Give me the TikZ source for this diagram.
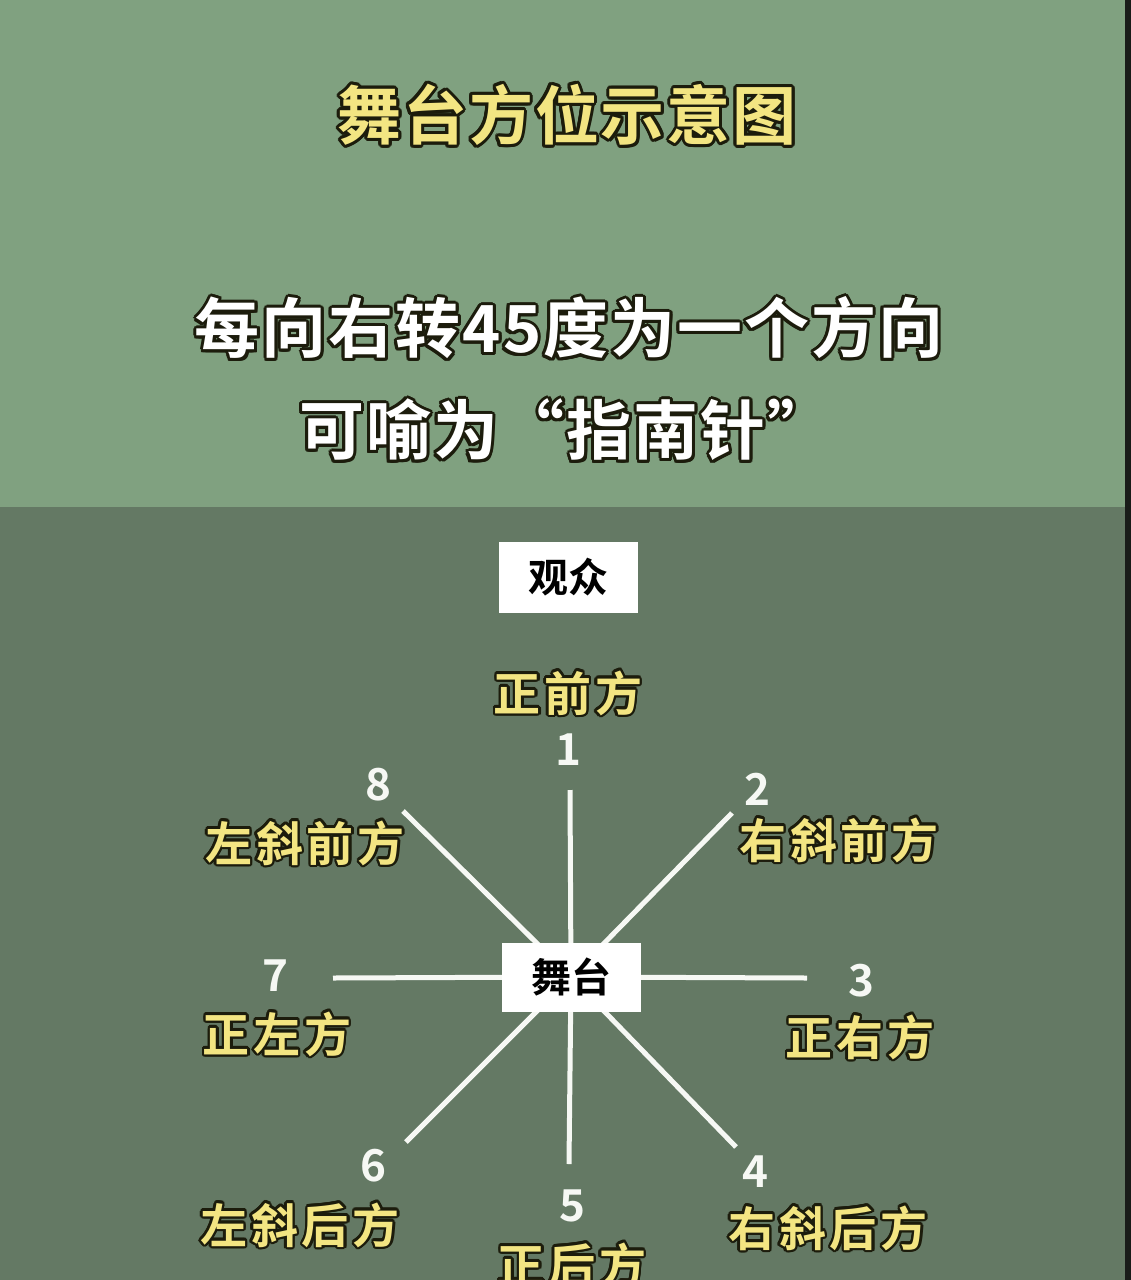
\documentclass[tikz,border=0pt]{standalone}
\usepackage{fontspec}
\setmainfont{Noto Sans CJK SC}
\newfontfamily\cjkb{Noto Sans CJK SC Bold}
\newfontfamily\cjkbs{Noto Sans CJK SC Bold}[LetterSpace=3]
\newfontfamily\cjkbl{Noto Sans CJK SC Bold}[LetterSpace=8]
\definecolor{topbg}{RGB}{128,161,128}
\definecolor{botbg}{RGB}{100,121,100}
\definecolor{edgedark}{RGB}{25,28,25}
\definecolor{yel}{RGB}{243,229,130}
\definecolor{outc}{RGB}{28,28,12}
\definecolor{linew}{RGB}{246,248,244}
\newcommand\olabel[6]{%
  \foreach \a in {0,22.5,...,337.5}{%
    \node[inner sep=0pt, text=outc, font=#4] at ([shift={(\a:#5)}]#2) {#6};}
  \node[inner sep=0pt, text=#3, font=#4] (#1) at (#2) {#6};}
\tikzset{
  ray/.style={draw=linew, line width=5pt},
  wbox/.style={fill=white, draw=none, inner sep=0pt, font=\cjkb\fontsize{40}{44}\selectfont},
  num/.style={text=linew, inner sep=0pt, font=\cjkb\fontsize{44}{48}\selectfont},
}
\begin{document}
\begin{tikzpicture}[x=1pt,y=-1pt]
\useasboundingbox (0,0) rectangle (1131,1280);
\fill[topbg] (0,0) rectangle (1131,507);
\fill[botbg] (0,507) rectangle (1131,1280);
\fill[edgedark] (1125,0) rectangle (1131,1280);

% titles
\olabel{title}{567,115}{yel}{\cjkbs\fontsize{64}{70}\selectfont}{3pt}{舞台方位示意图}
\olabel{sub1}{569,328}{white}{\cjkbs\fontsize{65}{70}\selectfont}{3pt}{每向右转45度为一个方向}
\olabel{sub2}{566,430}{white}{\cjkbs\fontsize{65}{70}\selectfont}{3pt}{可喻为“指南针”}

% audience box
\node[wbox, minimum width=139pt, minimum height=71pt] (aud) at (568,577) {观众};

% rays
\coordinate (c) at (571,977);
\coordinate (e1) at (570,790);
\coordinate (e2) at (732,813);
\coordinate (e3) at (807,978);
\coordinate (e4) at (736,1147);
\coordinate (e5) at (569,1164);
\coordinate (e6) at (406,1142);
\coordinate (e7) at (333,978);
\coordinate (e8) at (403,811);
\foreach \i in {1,...,8}{\draw[ray] (c) -- (e\i);}

\node[wbox, minimum width=139pt, minimum height=69pt] (stage) at (c) {舞台};

% numbers
\node[num] (n1) at (568,750) {1};
\node[num] (n2) at (757,789) {2};
\node[num] (n3) at (861,981) {3};
\node[num] (n4) at (755,1172) {4};
\node[num] (n5) at (572,1206) {5};
\node[num] (n6) at (373,1166) {6};
\node[num] (n7) at (275,976) {7};
\node[num] (n8) at (378,785) {8};

% direction labels
\def\lf{\cjkbl\fontsize{47}{50}\selectfont}
\olabel{l1}{568,693}{yel}{\lf}{2.5pt}{正前方}
\olabel{l2}{839,840}{yel}{\lf}{2.5pt}{右斜前方}
\olabel{l3}{860,1037}{yel}{\lf}{2.5pt}{正右方}
\olabel{l4}{828,1228}{yel}{\lf}{2.5pt}{右斜后方}
\olabel{l5}{572,1265}{yel}{\lf}{2.5pt}{正后方}
\olabel{l6}{300,1225}{yel}{\lf}{2.5pt}{左斜后方}
\olabel{l7}{277,1034}{yel}{\lf}{2.5pt}{正左方}
\olabel{l8}{305,843}{yel}{\lf}{2.5pt}{左斜前方}
\end{tikzpicture}
\end{document}
